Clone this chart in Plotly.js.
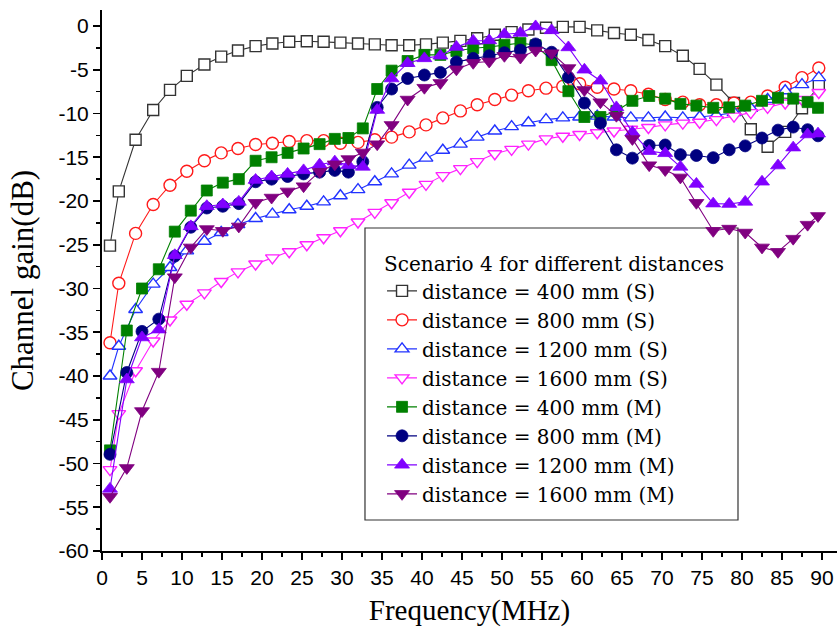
<!DOCTYPE html>
<html><head><meta charset="utf-8">
<script src="https://cdn.plot.ly/plotly-3.0.1.min.js"></script>
<style>html,body{margin:0;padding:0;background:#fff;} #chart{width:837px;height:630px;}</style>
</head><body><div id="chart"></div>
<script>
// Frequencies (MHz) of the single-conductor (S) and multi (M) measurements
const freqS = [1, 2.1, 4.2, 6.4, 8.5, 10.6, 12.8, 14.9, 17.0, 19.2, 21.3, 23.4, 25.6, 27.7, 29.8, 32.0, 34.1, 36.2, 38.4, 40.5, 42.6, 44.8, 46.9, 49.1, 51.2, 53.3, 55.5, 57.6, 59.7, 61.9, 64.0, 66.1, 68.3, 70.4, 72.6, 74.7, 76.8, 79.0, 81.1, 83.2, 85.4, 87.5, 89.6];
const freqM = [1, 3.1, 5.0, 7.1, 9.1, 11.1, 13.1, 15.1, 17.1, 19.2, 21.2, 23.2, 25.2, 27.2, 29.1, 30.8, 32.6, 34.4, 36.2, 38.2, 40.3, 42.3, 44.3, 46.4, 48.4, 50.3, 52.3, 54.2, 56.2, 58.3, 60.3, 62.3, 64.3, 66.3, 68.4, 70.4, 72.3, 74.3, 76.4, 78.4, 80.4, 82.5, 84.5, 86.4, 88.2, 89.5];

// Channel gain (dB)
const gain400S = [-25.1, -18.9, -13.0, -9.6, -7.3, -5.7, -4.4, -3.5, -2.8, -2.3, -2.0, -1.8, -1.75, -1.8, -1.9, -2.0, -2.1, -2.2, -2.2, -2.1, -1.9, -1.7, -1.4, -1.0, -0.7, -0.4, -0.2, -0.1, -0.1, -0.5, -0.8, -1.0, -1.6, -2.3, -3.4, -4.9, -6.7, -8.8, -11.8, -13.8, -12.1, -9.4, -6.8];
const gain800S = [-36.2, -29.4, -23.7, -20.4, -18.2, -16.6, -15.4, -14.5, -14.0, -13.55, -13.4, -13.2, -13.1, -13.1, -13.4, -13.3, -13.0, -12.7, -12.1, -11.3, -10.5, -9.7, -9.0, -8.4, -7.9, -7.4, -7.1, -6.9, -6.6, -7.0, -7.2, -7.4, -7.8, -8.4, -8.7, -9.0, -9.0, -8.8, -8.7, -8.0, -7.0, -5.9, -4.8];
const gain1200S = [-40.0, -36.6, -32.4, -29.5, -27.6, -25.7, -24.6, -23.6, -22.7, -22.0, -21.5, -21.0, -20.6, -20.1, -19.4, -18.7, -17.8, -16.9, -15.9, -15.1, -14.2, -13.5, -12.7, -12.0, -11.5, -11.05, -10.7, -10.5, -10.4, -10.3, -10.4, -10.5, -10.5, -10.4, -10.5, -10.4, -10.2, -9.9, -9.4, -8.4, -7.4, -6.7, -5.9];
const gain1600S = [-50.7, -44.3, -39.4, -36.0, -33.6, -31.8, -30.5, -29.2, -28.1, -27.2, -26.5, -25.8, -25.0, -24.2, -23.4, -22.4, -21.3, -20.2, -19.0, -18.1, -17.1, -16.3, -15.5, -14.6, -14.1, -13.5, -12.9, -12.6, -12.4, -12.2, -12.0, -11.8, -11.6, -11.3, -11.1, -11.0, -10.7, -10.3, -9.9, -9.3, -8.8, -8.4, -7.6];
const gain400M = [-48.5, -34.8, -30.0, -27.8, -23.5, -21.1, -18.8, -17.9, -17.5, -15.4, -15.0, -14.5, -14.0, -13.5, -12.9, -12.8, -11.7, -7.2, -5.1, -4.0, -3.3, -3.3, -2.85, -2.55, -2.4, -2.15, -1.95, -2.2, -3.9, -7.45, -10.4, -10.4, -9.7, -8.55, -8.0, -8.3, -8.9, -9.1, -9.35, -9.3, -9.1, -8.55, -8.2, -8.3, -8.7, -9.35];
const gain800M = [-48.95, -39.6, -34.9, -33.5, -26.3, -23.0, -20.8, -20.6, -20.3, -17.8, -17.5, -17.2, -16.9, -16.7, -16.5, -16.7, -15.5, -9.3, -7.2, -6.0, -5.6, -5.3, -4.1, -3.7, -3.4, -3.05, -2.75, -2.05, -3.0, -5.85, -8.8, -11.1, -14.15, -15.1, -13.65, -13.6, -14.7, -14.8, -15.05, -14.15, -13.7, -12.8, -11.9, -11.55, -11.85, -12.55];
const gain1200M = [-52.9, -40.4, -35.6, -34.7, -26.2, -22.9, -20.6, -20.4, -20.1, -17.6, -17.2, -16.9, -16.5, -15.85, -15.5, -15.9, -16.1, -9.6, -6.0, -4.25, -3.7, -3.4, -2.4, -1.7, -1.65, -0.95, -0.8, -0.05, -0.5, -2.45, -5.0, -6.25, -9.3, -12.15, -14.3, -14.55, -16.1, -18.05, -20.3, -20.35, -20.1, -17.8, -15.95, -13.9, -12.4, -12.3];
const gain1600M = [-53.8, -50.5, -44.0, -39.5, -28.7, -25.3, -23.2, -23.4, -22.9, -20.2, -19.6, -18.9, -18.3, -16.65, -15.8, -15.2, -14.45, -13.5, -11.3, -8.4, -7.05, -6.5, -4.95, -4.2, -4.05, -3.4, -3.6, -2.8, -3.1, -4.8, -7.3, -8.7, -10.25, -12.9, -15.9, -16.45, -17.3, -20.2, -23.4, -23.15, -23.6, -25.3, -25.8, -24.3, -22.7, -21.7];

const seriesNames = ['distance = 400 mm (S)', 'distance = 800 mm (S)', 'distance = 1200 mm (S)', 'distance = 1600 mm (S)',
                     'distance = 400 mm (M)', 'distance = 800 mm (M)', 'distance = 1200 mm (M)', 'distance = 1600 mm (M)'];
const legendTitle = 'Scenario 4 for different distances';
const xTickVals = [0, 5, 10, 15, 20, 25, 30, 35, 40, 45, 50, 55, 60, 65, 70, 75, 80, 85, 90];
const yTickVals = [0, -5, -10, -15, -20, -25, -30, -35, -40, -45, -50, -55, -60];
const yTickText = yTickVals.map(v => String(v));

function mk(x, y, name, symbol, color, open, size) {
  return {
    type: 'scatter', mode: 'lines+markers', x: x, y: y, name: name,
    line: {color: color, width: 1.1},
    marker: {symbol: symbol, size: size, color: open ? '#ffffff' : color,
             line: {color: color, width: open ? 1.4 : 0.8}}
  };
}

const data = [
  mk(freqS, gain400S, seriesNames[0], 'square', '#333333', true, 11),
  mk(freqS, gain800S, seriesNames[1], 'circle', '#ff1a1a', true, 12),
  mk(freqS, gain1200S, seriesNames[2], 'triangle-up', '#2233ff', true, 12),
  mk(freqS, gain1600S, seriesNames[3], 'triangle-down', '#ff22ff', true, 12),
  mk(freqM, gain400M, seriesNames[4], 'square', '#008000', false, 11),
  mk(freqM, gain800M, seriesNames[5], 'circle', '#000080', false, 12),
  mk(freqM, gain1200M, seriesNames[6], 'triangle-up', '#8000ff', false, 13),
  mk(freqM, gain1600M, seriesNames[7], 'triangle-down', '#800080', false, 13)
];

const tickFont = {family: 'Liberation Sans, Arial, sans-serif', size: 21, color: '#000'};
const layout = {
  width: 837, height: 630,
  margin: {l: 102, r: 0, t: 10, b: 79},
  paper_bgcolor: '#ffffff', plot_bgcolor: '#ffffff',
  showlegend: true,
  xaxis: {
    range: [0, 91.875], tickmode: 'array', tickvals: xTickVals,
    ticks: 'outside', ticklen: 7, tickwidth: 1.8, tickcolor: '#000',
    showline: true, linewidth: 2, linecolor: '#000', showgrid: false, zeroline: false,
    minor: {dtick: 2.5, ticks: 'outside', ticklen: 4, tickwidth: 1.5, tickcolor: '#000', showgrid: false},
    tickfont: tickFont,
    title: {text: 'Frequency(MHz)', font: {family: 'Liberation Serif, Times New Roman, serif', size: 29, color: '#000'}, standoff: 11}
  },
  yaxis: {
    range: [-60, 1.83], tickmode: 'array', tickvals: yTickVals, ticktext: yTickText,
    ticks: 'outside', ticklen: 7, tickwidth: 1.8, tickcolor: '#000',
    showline: true, linewidth: 2, linecolor: '#000', showgrid: false, zeroline: false,
    minor: {dtick: 2.5, ticks: 'outside', ticklen: 4, tickwidth: 1.5, tickcolor: '#000', showgrid: false},
    tickfont: tickFont,
    title: {text: 'Channel gain(dB)', font: {family: 'Liberation Serif, Times New Roman, serif', size: 31, color: '#000'}, standoff: 16}
  },
  legend: {
    x: 0.381, y: 0.565, xanchor: 'left', yanchor: 'top',
    bgcolor: 'rgba(0,0,0,0)', borderwidth: 0,
    font: {family: 'DejaVu Serif, serif', size: 20, color: '#000'},
    title: {text: legendTitle, font: {family: 'DejaVu Serif, serif', size: 20, color: '#000'}},
    itemwidth: 30, tracegroupgap: 0
  },
  shapes: [{
    type: 'rect', xref: 'paper', yref: 'paper', layer: 'below',
    x0: 0.3578, x1: 0.8653, y0: 0.0573, y1: 0.597,
    line: {color: '#333333', width: 1.2}, fillcolor: '#ffffff'
  }]
};

Plotly.newPlot('chart', data, layout, {displayModeBar: false, staticPlot: true});
</script>
</body></html>
